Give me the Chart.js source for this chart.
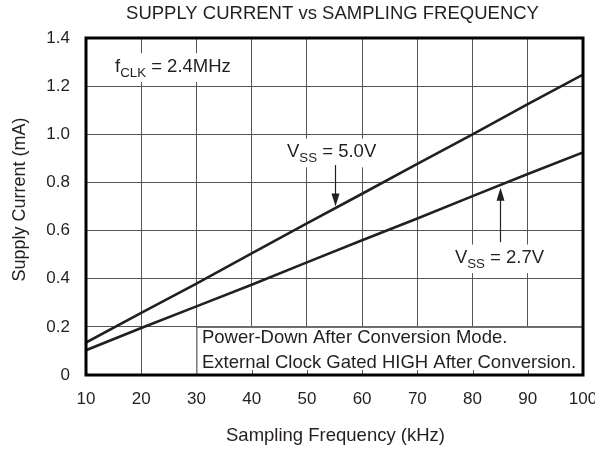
<!DOCTYPE html>
<html>
<head>
<meta charset="utf-8">
<script src="https://cdn.jsdelivr.net/npm/chart.js@4/dist/chart.umd.min.js"></script>
<style>
  body { margin: 0; background: #fff; }
</style>
</head>
<body>
<canvas id="supplyChart" width="595" height="449"></canvas>
<script>
// Sampling frequency (kHz) and supply current (mA) for each supply voltage
const freq = [10, 20, 30, 40, 50, 60, 70, 80, 90, 100];
const vss50 = [0.135, 0.258, 0.38, 0.505, 0.63, 0.753, 0.877, 1.0, 1.125, 1.248];
const vss27 = [0.103, 0.195, 0.285, 0.375, 0.468, 0.56, 0.65, 0.743, 0.835, 0.925];

const xTicks = [10, 20, 30, 40, 50, 60, 70, 80, 90, 100];
const yTicks = [0, 0.2, 0.4, 0.6, 0.8, 1.0, 1.2, 1.4];
const yTickLabels = ["0", "0.2", "0.4", "0.6", "0.8", "1.0", "1.2", "1.4"];

const FONT = '"Liberation Sans", Arial, sans-serif';
const INK = "#231f20";

// draws text with optional subscript parts, returns total width
function richText(ctx, parts, x, y, size, measureOnly) {
  let w = 0;
  parts.forEach(function (p) {
    const sub = p[1];
    ctx.font = (sub ? size * 0.72 : size) + "px " + FONT;
    if (!measureOnly) ctx.fillText(p[0], x + w, sub ? y + size * 0.28 : y);
    w += ctx.measureText(p[0]).width;
  });
  return w;
}

const labels = [
  { parts: [["f"], ["CLK", true], [" = 2.4MHz"]], x: 15.25, y: 1.26 },
  { parts: [["V"], ["SS", true], [" = 5.0V"]], x: 46.4, y: 0.905 },
  { parts: [["V"], ["SS", true], [" = 2.7V"]], x: 76.8, y: 0.465 },
];
const arrows = [
  { x: 55, from: 0.872, to: 0.7 },
  { x: 85, from: 0.552, to: 0.778 },
];
const noteLines = [
  { text: "Power-Down After Conversion Mode.", y: 0.132 },
  { text: "External Clock Gated HIGH After Conversion.", y: 0.028 },
];
const LABEL_SIZE = 18.5;

const decorations = {
  id: "decorations",
  beforeDatasetsDraw(chart) {
    const ctx = chart.ctx;
    const xs = chart.scales.x, ys = chart.scales.y;
    const area = chart.chartArea;
    ctx.save();
    ctx.textBaseline = "alphabetic";
    ctx.fillStyle = "#fff";
    // white patches behind labels
    labels.forEach(function (l) {
      const x = xs.getPixelForValue(l.x), y = ys.getPixelForValue(l.y);
      const w = richText(ctx, l.parts, x, y, LABEL_SIZE, true);
      ctx.fillRect(x - 4, y - LABEL_SIZE, w + 8, LABEL_SIZE * 1.55);
    });
    // note box along the bottom
    const bx = xs.getPixelForValue(30);
    const by = ys.getPixelForValue(0.2);
    ctx.fillRect(bx, by, area.right - bx, area.bottom - by);
    ctx.strokeStyle = "#555";
    ctx.lineWidth = 1;
    ctx.beginPath();
    ctx.moveTo(bx + 0.5, by);
    ctx.lineTo(bx + 0.5, area.bottom);
    ctx.moveTo(bx, by + 0.5);
    ctx.lineTo(area.right, by + 0.5);
    xTicks.forEach(function (t) {
      if (t <= 30 || t >= 100) return;
      const tx = Math.round(xs.getPixelForValue(t)) + 0.5;
      ctx.moveTo(tx, area.bottom);
      ctx.lineTo(tx, area.bottom - 5);
    });
    ctx.stroke();
    ctx.restore();
  },
  afterDatasetsDraw(chart) {
    const ctx = chart.ctx;
    const xs = chart.scales.x, ys = chart.scales.y;
    const area = chart.chartArea;
    ctx.save();
    // plot frame
    ctx.strokeStyle = "#000";
    ctx.lineWidth = 3;
    ctx.strokeRect(area.left, area.top, area.right - area.left, area.bottom - area.top);

    ctx.fillStyle = INK;
    ctx.strokeStyle = INK;
    ctx.textBaseline = "alphabetic";
    ctx.textAlign = "left";
    labels.forEach(function (l) {
      richText(ctx, l.parts, xs.getPixelForValue(l.x), ys.getPixelForValue(l.y), LABEL_SIZE);
    });

    // arrows pointing at the curves
    ctx.lineWidth = 1.2;
    arrows.forEach(function (a) {
      const x = Math.round(xs.getPixelForValue(a.x)) + 0.5;
      const y0 = ys.getPixelForValue(a.from), y1 = ys.getPixelForValue(a.to);
      const dir = y1 > y0 ? 1 : -1;
      ctx.beginPath();
      ctx.moveTo(x, y0);
      ctx.lineTo(x, y1 - dir * 10);
      ctx.stroke();
      ctx.beginPath();
      ctx.moveTo(x, y1);
      ctx.lineTo(x - 4, y1 - dir * 13);
      ctx.lineTo(x + 4, y1 - dir * 13);
      ctx.closePath();
      ctx.fill();
    });

    ctx.font = LABEL_SIZE + "px " + FONT;
    noteLines.forEach(function (n) {
      ctx.fillText(n.text, xs.getPixelForValue(31), ys.getPixelForValue(n.y));
    });

    // titles
    const cx = (area.left + area.right) / 2;
    ctx.textAlign = "center";
    ctx.textBaseline = "middle";
    ctx.font = "18.5px " + FONT;
    ctx.fillText("SUPPLY CURRENT vs SAMPLING FREQUENCY", cx - 2, 14);
    ctx.fillText("Sampling Frequency (kHz)", cx + 1, 436);
    ctx.font = "18px " + FONT;
    ctx.translate(20, (area.top + area.bottom) / 2 - 7);
    ctx.rotate(-Math.PI / 2);
    ctx.fillText("Supply Current (mA)", 0, 0);
    ctx.restore();
  },
};

const ctx = document.getElementById("supplyChart").getContext("2d");
const chart = new Chart(ctx, {
  type: "line",
  data: {
    datasets: [
      {
        label: "VSS = 5.0V",
        data: freq.map(function (f, i) { return { x: f, y: vss50[i] }; }),
        borderColor: INK,
        borderWidth: 2.6,
        pointRadius: 0,
        tension: 0,
      },
      {
        label: "VSS = 2.7V",
        data: freq.map(function (f, i) { return { x: f, y: vss27[i] }; }),
        borderColor: INK,
        borderWidth: 2.6,
        pointRadius: 0,
        tension: 0,
      },
    ],
  },
  options: {
    responsive: false,
    animation: false,
    layout: { padding: { top: 38, right: 12, bottom: 0, left: 0 } },
    scales: {
      x: {
        type: "linear",
        min: 10,
        max: 100,
        afterBuildTicks: function (axis) {
          axis.ticks = xTicks.map(function (v) { return { value: v }; });
        },
        afterFit: function (axis) {
          axis.height = 74;
          // let the last tick label run into the right margin
          axis.paddingLeft = 0;
          axis.paddingRight = 0;
        },
        grid: { color: "#555", lineWidth: 1, drawTicks: false },
        border: { display: false },
        ticks: {
          padding: 14,
          maxRotation: 0,
          color: INK,
          font: { family: FONT, size: 17 },
        },
      },
      y: {
        min: 0,
        max: 1.4,
        afterBuildTicks: function (axis) {
          axis.ticks = yTicks.map(function (v) { return { value: v }; });
        },
        afterFit: function (axis) { axis.width = 86; },
        grid: { color: "#555", lineWidth: 1, drawTicks: false },
        border: { display: false },
        ticks: {
          padding: 16,
          color: INK,
          font: { family: FONT, size: 17 },
          callback: function (v, i) { return yTickLabels[i]; },
        },
      },
    },
    plugins: {
      legend: { display: false },
      tooltip: { enabled: false },
    },
  },
  plugins: [decorations],
});
</script>
</body>
</html>
